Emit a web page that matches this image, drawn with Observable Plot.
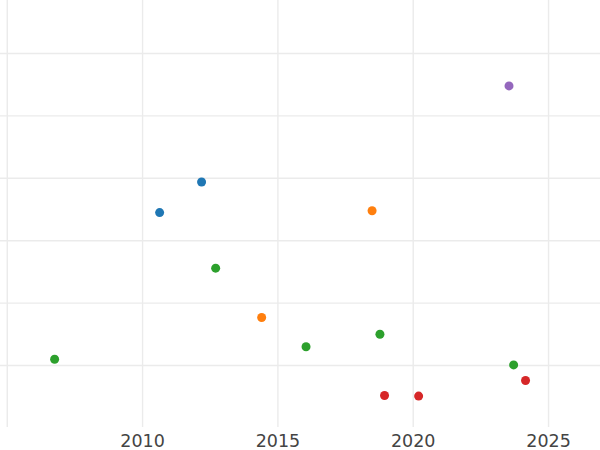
<!DOCTYPE html>
<html>
<head>
<meta charset="utf-8">
<script src="https://cdn.jsdelivr.net/npm/d3@7"></script>
<script src="https://cdn.jsdelivr.net/npm/@observablehq/plot@0.6"></script>
<style>
  html, body { margin: 0; padding: 0; background: #fff; }
  #chart svg { display: block; }
</style>
</head>
<body>
<div id="chart"></div>
<script>
// Data (y has no labels: relative units)
const groups = ["A", "B", "C", "D", "E"];
const groupColors = ["#1f77b4", "#ff7f0e", "#2ca02c", "#d62728", "#9467bd"];

const seriesA_year = [2012.18, 2010.63];
const seriesA_value = [2.94, 2.45];
const seriesB_year = [2018.48, 2014.40];
const seriesB_value = [2.48, 0.77];
const seriesC_year = [2006.75, 2012.70, 2016.04, 2018.77, 2023.71];
const seriesC_value = [0.10, 1.56, 0.30, 0.50, 0.01];
const seriesD_year = [2018.94, 2020.20, 2024.15];
const seriesD_value = [-0.48, -0.49, -0.24];
const seriesE_year = [2023.54];
const seriesE_value = [4.48];

const xTickLabels = [2010, 2015, 2020, 2025];
const xGrid = [2005, 2010, 2015, 2020, 2025];
const yGrid = [0, 1, 2, 3, 4, 5];

const years = [seriesA_year, seriesB_year, seriesC_year, seriesD_year, seriesE_year];
const values = [seriesA_value, seriesB_value, seriesC_value, seriesD_value, seriesE_value];
const data = [];
groups.forEach((g, i) => {
  years[i].forEach((yr, j) => data.push({group: g, year: yr, value: values[i][j]}));
});

const chart = Plot.plot({
  width: 600,
  height: 450,
  marginTop: 0,
  marginRight: 0,
  marginLeft: 0,
  marginBottom: 23,
  style: {background: "#fff", fontFamily: "DejaVu Sans"},
  x: {domain: [2004.75, 2026.92]},
  y: {domain: [-0.9935, 5.849], axis: null},
  color: {domain: groups, range: groupColors},
  marks: [
    Plot.ruleX(xGrid, {stroke: "#ebebeb", strokeWidth: 1.4}),
    Plot.ruleY(yGrid, {stroke: "#ebebeb", strokeWidth: 1.4}),
    Plot.axisX({ticks: xTickLabels, tickSize: 0, tickPadding: 7, tickFormat: d => String(d), fontSize: 17.5, fill: "#444", label: null}),
    Plot.dot(data, {x: "year", y: "value", fill: "group", r: 4.5, stroke: null})
  ]
});
document.getElementById("chart").appendChild(chart);
</script>
</body>
</html>
